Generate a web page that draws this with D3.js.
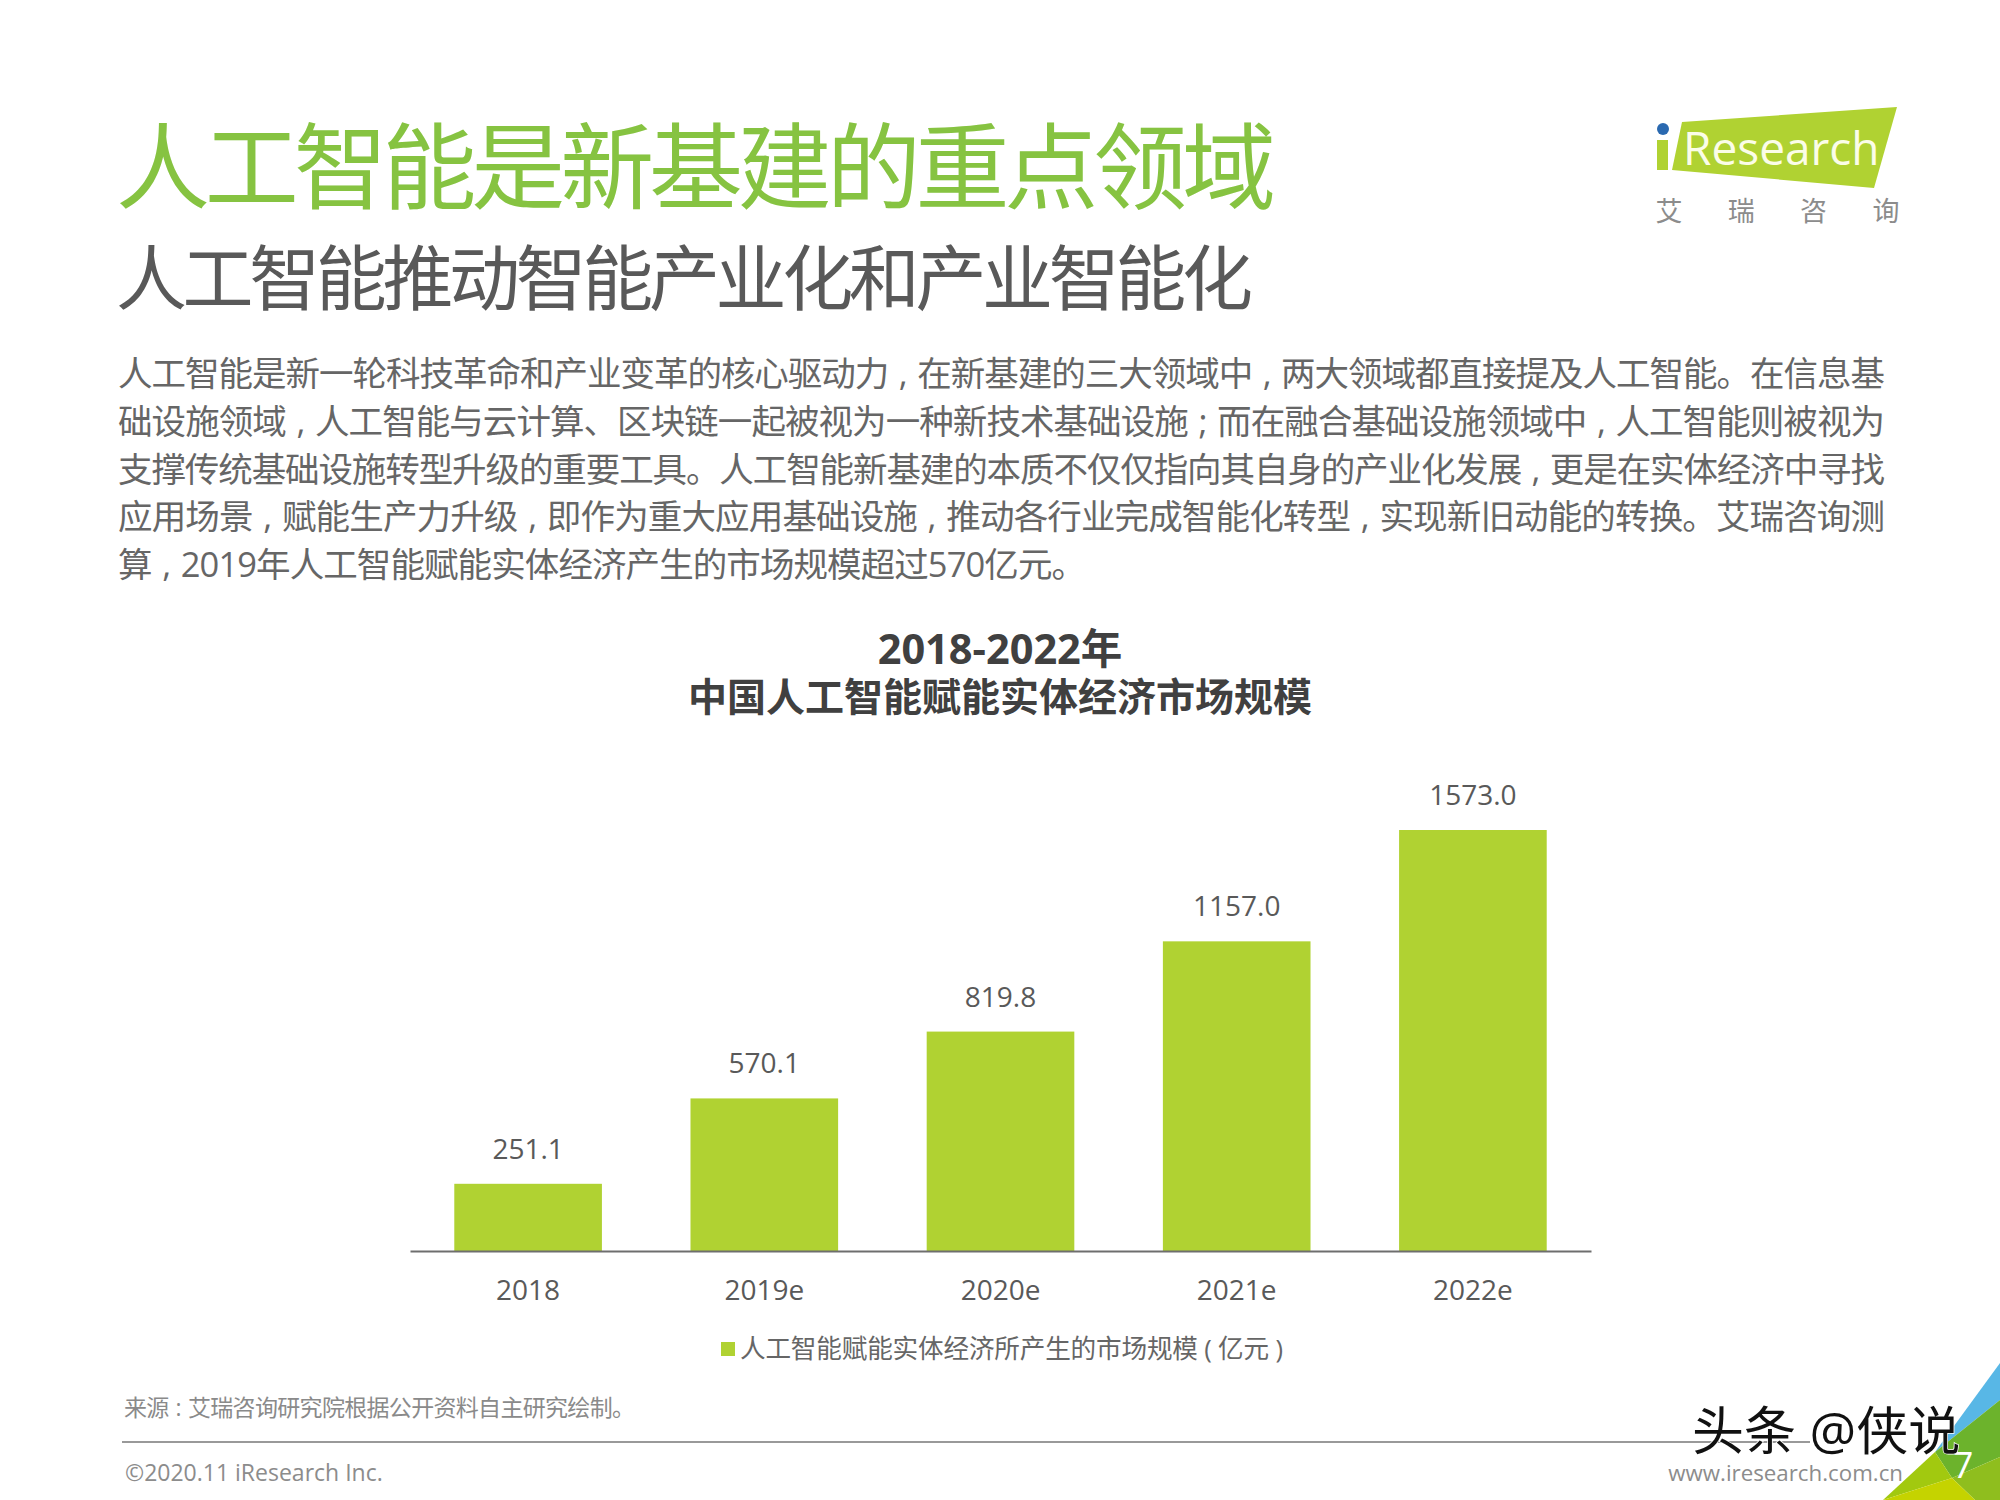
<!DOCTYPE html>
<html>
<head>
<meta charset="utf-8">
<script src="https://cdn.jsdelivr.net/npm/d3@7/dist/d3.min.js"></script>
<style>
  body { margin: 0; background: #fff; }
  text { font-family: "Open Sans", "Noto Sans CJK SC", sans-serif; }
</style>
</head>
<body>
<div id="chart"></div>
<script>
const categories = ["2018", "2019e", "2020e", "2021e", "2022e"];
const values = [251.1, 570.1, 819.8, 1157.0, 1573.0];
const seriesName = "人工智能赋能实体经济所产生的市场规模 ( 亿元 )";
const pageTitle = "人工智能是新基建的重点领域";
const pageSubtitle = "人工智能推动智能产业化和产业智能化";
const bodyLines = [
    "人工智能是新一轮科技革命和产业变革的核心驱动力,在新基建的三大领域中,两大领域都直接提及人工智能。在信息基",
    "础设施领域,人工智能与云计算、区块链一起被视为一种新技术基础设施;而在融合基础设施领域中,人工智能则被视为",
    "支撑传统基础设施转型升级的重要工具。人工智能新基建的本质不仅仅指向其自身的产业化发展,更是在实体经济中寻找",
    "应用场景,赋能生产力升级,即作为重大应用基础设施,推动各行业完成智能化转型,实现新旧动能的转换。艾瑞咨询测",
    "算,2019年人工智能赋能实体经济产生的市场规模超过570亿元。"
];
const bodyWidths = [1767, 1767, 1767, 1767, 968];
const chartTitle = ["2018-2022年", "中国人工智能赋能实体经济市场规模"];
const sourceNote = "来源:艾瑞咨询研究院根据公开资料自主研究绘制。";
const logoChars = ["艾", "瑞", "咨", "询"];

const green = "#b0d232";
const svg = d3.select("#chart").append("svg")
    .attr("width", 2000)
    .attr("height", 1500);

function label(x, y, str, size, fill, anchor, weight) {
    return svg.append("text")
        .attr("x", x).attr("y", y)
        .attr("font-size", size)
        .attr("fill", fill)
        .attr("text-anchor", anchor || "start")
        .attr("font-weight", weight || 400)
        .text(str);
}

// the original has its punctuation floating in the middle of a full em
const spacedPunct = s => s.replace(/([,;:])/g, (m) => "\u2004" + ({",": ",", ";": ";", ":": ":"})[m] + "\u2004");

// header
label(116, 202, pageTitle, 94, "#86c341").attr("textLength", 1160);
label(116, 304, pageSubtitle, 71, "#595959").attr("textLength", 1137);
bodyLines.forEach((line, i) => {
    label(118, 386 + i * 47.8, spacedPunct(line), 34.5, "#666", "start")
        .attr("textLength", bodyWidths[i]);
});

// logo
svg.append("polygon").attr("points", "1682,122 1897,107 1874,188 1672,170").attr("fill", green);
svg.append("rect").attr("x", 1657).attr("y", 140).attr("width", 11).attr("height", 30).attr("fill", green);
svg.append("circle").attr("cx", 1663).attr("cy", 129).attr("r", 6).attr("fill", "#2a69b0");
label(1683, 165, "Research", 46, "#fbfde8");
logoChars.forEach((c, i) => label(1669 + i * 72.3, 221, c, 27, "#8c8c8c", "middle"));

// chart
const x = d3.scaleBand().domain(categories).range([410, 1591]).paddingInner(0.375).paddingOuter(0.1875);
const y = d3.scaleLinear().domain([0, 1573]).range([1251, 830]);

chartTitle.forEach((t, i) => label(1000, 664 + i * 47, t, i ? 39 : 41.5, "#404040", "middle", 700));

svg.selectAll("rect.bar").data(values).join("rect")
    .attr("class", "bar")
    .attr("x", (d, i) => x(categories[i]))
    .attr("y", d => y(d))
    .attr("width", x.bandwidth())
    .attr("height", d => y(0) - y(d))
    .attr("fill", green);

svg.selectAll("text.value").data(values).join("text")
    .attr("class", "value")
    .attr("x", (d, i) => x(categories[i]) + x.bandwidth() / 2)
    .attr("y", d => y(d) - 25)
    .attr("text-anchor", "middle")
    .attr("font-size", 28)
    .attr("fill", "#595959")
    .text(d => d.toFixed(1));

const xAxis = svg.append("g")
    .attr("transform", `translate(0,${y(0)})`)
    .call(d3.axisBottom(x).tickSize(0).tickPadding(29));
xAxis.select(".domain").attr("stroke", "#6e6e6e").attr("stroke-width", 2);
xAxis.selectAll("text")
    .attr("font-size", 28)
    .attr("fill", "#595959")
    .style("font-family", '"Open Sans", "Noto Sans CJK SC", sans-serif');

// legend
svg.append("rect").attr("x", 721).attr("y", 1342).attr("width", 14).attr("height", 14).attr("fill", green);
label(740, 1358, seriesName, 25.6, "#666", "start").attr("textLength", 543);

// footer
label(124, 1416, spacedPunct(sourceNote), 23, "#8a8a8a", "start").attr("textLength", 511);
svg.append("line").attr("x1", 122).attr("x2", 1810).attr("y1", 1442).attr("y2", 1442)
    .attr("stroke", "#999").attr("stroke-width", 2);
label(125, 1481, "©2020.11 iResearch Inc.", 23, "#8c8c8c");
label(1903, 1481, "www.iresearch.com.cn", 22.3, "#8c8c8c", "end");

// corner wedge
svg.append("polygon").attr("points", "2000,1363 1935,1452 2000,1400").attr("fill", "#58b7e6");
svg.append("polygon").attr("points", "2000,1400 1935,1452 1952,1478 2000,1457").attr("fill", "#6cb32c");
svg.append("polygon").attr("points", "1935,1452 1883,1500 1952,1478").attr("fill", "#a2c90f");
svg.append("polygon").attr("points", "1952,1478 2000,1457 2000,1500 1975,1500").attr("fill", "#8fbe1e");
svg.append("polygon").attr("points", "1952,1478 1883,1500 1975,1500").attr("fill", "#c5d300");
label(1963, 1478, "7", 36, "#fff", "middle");

// watermark
label(1692, 1450, "头条 @侠说", 52, "#111")
    .attr("stroke", "#fff").attr("stroke-width", 1.5).attr("paint-order", "stroke");
</script>
</body>
</html>
